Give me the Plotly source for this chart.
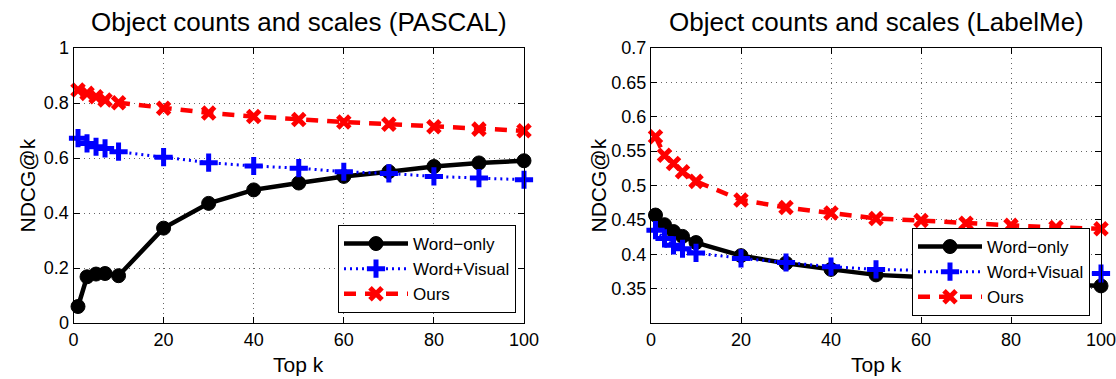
import plotly.graph_objects as go

k = [1, 3, 5, 7, 10, 20, 30, 40, 50, 60, 70, 80, 90, 100]

pascal_word_only = [0.060, 0.168, 0.178, 0.180, 0.172, 0.345, 0.435, 0.484, 0.509, 0.533, 0.550, 0.569, 0.582, 0.590]
pascal_word_visual = [0.672, 0.653, 0.641, 0.635, 0.623, 0.603, 0.583, 0.571, 0.563, 0.550, 0.544, 0.533, 0.527, 0.521]
pascal_ours = [0.847, 0.835, 0.823, 0.811, 0.801, 0.781, 0.764, 0.751, 0.740, 0.731, 0.723, 0.714, 0.705, 0.699]

labelme_word_only = [0.457, 0.443, 0.433, 0.426, 0.417, 0.398, 0.387, 0.378, 0.370, 0.367, 0.364, 0.361, 0.358, 0.354]
labelme_word_visual = [0.435, 0.423, 0.413, 0.408, 0.402, 0.394, 0.388, 0.382, 0.378, 0.376, 0.375, 0.374, 0.373, 0.372]
labelme_ours = [0.571, 0.544, 0.532, 0.520, 0.506, 0.479, 0.468, 0.460, 0.452, 0.449, 0.445, 0.442, 0.439, 0.437]

series_names = ["Word\u2212only", "Word+Visual", "Ours"]
titles = ["Object counts and scales (PASCAL)", "Object counts and scales (LabelMe)"]
x_ticks = [0, 20, 40, 60, 80, 100]
left_y_ticks = [0, 0.2, 0.4, 0.6, 0.8, 1]
left_y_text = ["0", "0.2", "0.4", "0.6", "0.8", "1"]
right_y_ticks = [0.35, 0.4, 0.45, 0.5, 0.55, 0.6, 0.65, 0.7]
right_y_text = ["0.35", "0.4", "0.45", "0.5", "0.55", "0.6", "0.65", "0.7"]

FONT = "Liberation Sans, Arial, Helvetica, sans-serif"
W, H = 1116, 379

styles = [
    dict(line=dict(color="black", width=4.5, dash="solid"),
         marker=dict(symbol="circle", size=14, color="black", line=dict(color="black", width=1))),
    dict(line=dict(color="#0000ff", width=3, dash="2px,4px"),
         marker=dict(symbol="cross-thin-open", size=13, color="#0000ff", line=dict(color="#0000ff", width=5))),
    dict(line=dict(color="#ff0000", width=4.5, dash="12px,9px"),
         marker=dict(symbol="x-thin-open", size=12, color="#ff0000", line=dict(color="#ff0000", width=5))),
]

fig = go.Figure()
panels = [
    ("x", "y", "legend", [pascal_word_only, pascal_word_visual, pascal_ours]),
    ("x2", "y2", "legend2", [labelme_word_only, labelme_word_visual, labelme_ours]),
]
for xa, ya, lg, data in panels:
    for name, vals, st in zip(series_names, data, styles):
        fig.add_trace(go.Scatter(x=k, y=vals, mode="lines+markers", name=name,
                                 xaxis=xa, yaxis=ya, legend=lg, line=st["line"], marker=st["marker"],
                                 cliponaxis=False))

# pixel boxes
lx0, lx1 = 73.5, 524
rx0, rx1 = 651, 1101
ytop, ybot = 48, 323


def px(v):
    return v / W


def py(v):
    return 1 - v / H


axis_common = dict(showline=True, linecolor="black", linewidth=1, mirror="ticks",
                   ticks="inside", ticklen=6, tickcolor="black", tickwidth=1,
                   showgrid=True, gridcolor="#666", griddash="1px,4px", gridwidth=1,
                   zeroline=False, automargin=False, ticklabeloverflow="allow",
                   tickfont=dict(family=FONT, size=18, color="black"))

legend_common = dict(xanchor="right", yanchor="bottom", bgcolor="white",
                     bordercolor="black", borderwidth=1, font=dict(family=FONT, size=17, color="black"),
                     itemwidth=64, tracegroupgap=0)

fig.update_layout(
    width=W, height=H,
    margin=dict(l=0, r=0, t=0, b=0, pad=0, autoexpand=False),
    paper_bgcolor="white", plot_bgcolor="white",
    font=dict(family=FONT, color="black"),
    xaxis=dict(domain=[px(lx0), px(lx1)], range=[0, 100], tickvals=x_ticks, anchor="y", **axis_common),
    yaxis=dict(domain=[py(ybot), py(ytop)], range=[0, 1], tickvals=left_y_ticks, ticktext=left_y_text,
               anchor="x", **axis_common),
    xaxis2=dict(domain=[px(rx0), px(rx1)], range=[0, 100], tickvals=x_ticks, anchor="y2", **axis_common),
    yaxis2=dict(domain=[py(ybot), py(ytop)], range=[0.3, 0.7], tickvals=right_y_ticks, ticktext=right_y_text,
                anchor="x2", **axis_common),
    legend=dict(x=px(516), y=py(313), **legend_common),
    legend2=dict(x=px(1090), y=py(316), **legend_common),
    showlegend=True,
)

annos = []
for cx, t in [((lx0 + lx1) / 2, titles[0]), ((rx0 + rx1) / 2, titles[1])]:
    annos.append(dict(text=t, x=px(cx), y=py(22), xref="paper", yref="paper", showarrow=False,
                      xanchor="center", yanchor="middle", font=dict(family=FONT, size=26, color="black")))
for cx in [(lx0 + lx1) / 2, (rx0 + rx1) / 2]:
    annos.append(dict(text="Top k", x=px(cx), y=py(364), xref="paper", yref="paper", showarrow=False,
                      xanchor="center", yanchor="middle", font=dict(family=FONT, size=21, color="black")))
for cx in [27, 598]:
    annos.append(dict(text="NDCG@k", x=px(cx), y=py((ytop + ybot) / 2), xref="paper", yref="paper",
                      showarrow=False, textangle=-90, xanchor="center", yanchor="middle",
                      font=dict(family=FONT, size=21, color="black")))
fig.update_layout(annotations=annos)

fig.write_html("out.html")
